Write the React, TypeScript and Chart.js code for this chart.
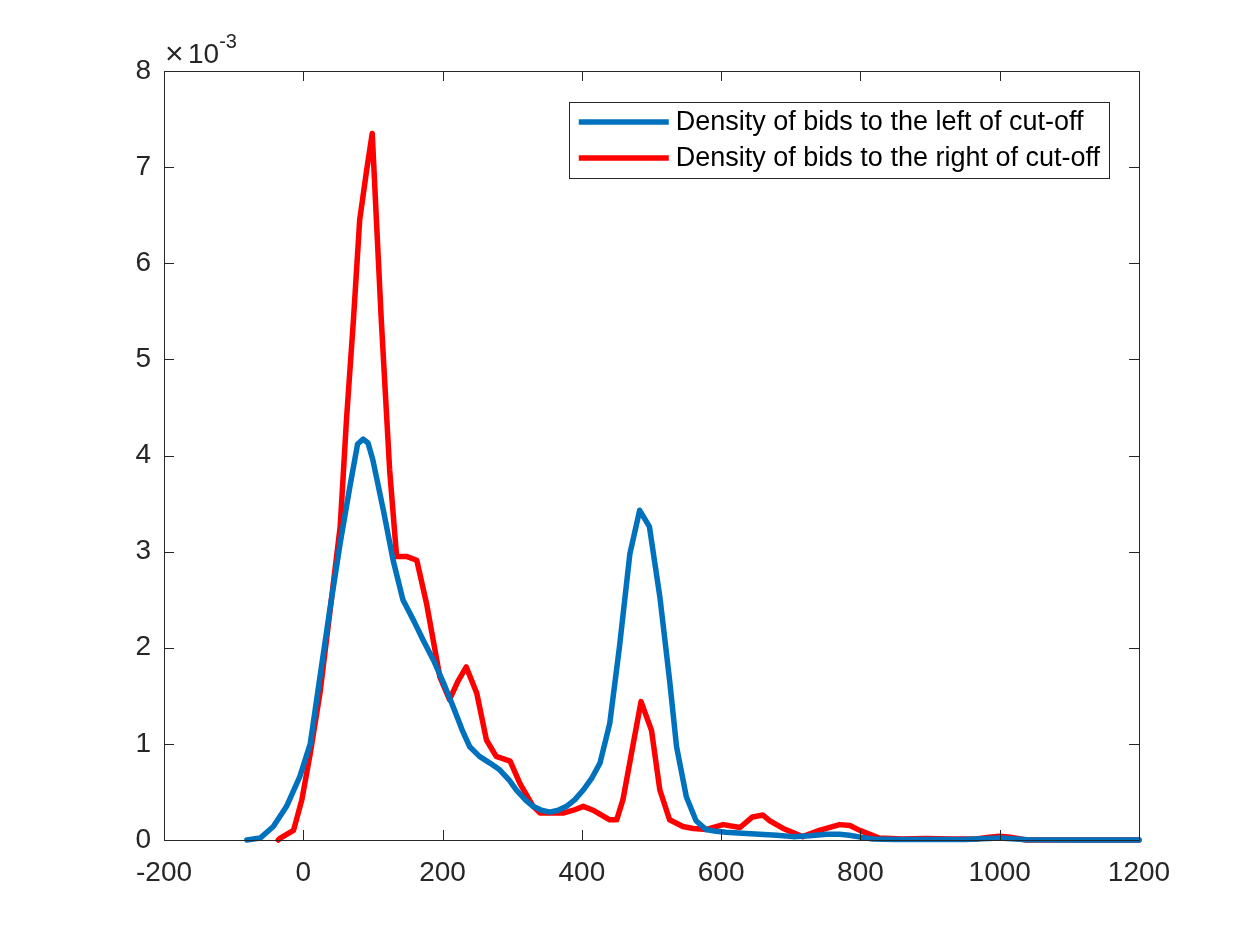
import Chart from 'chart.js/auto';
import React, { useEffect, useRef } from 'react';

// bid value (x) and kernel density (in units of 1e-3)
const leftX = [
  -81, -62, -43, -24, -5, 10, 24, 38, 53, 67, 78, 86, 93, 100, 115, 129, 143, 158, 172, 187, 201, 215, 229, 239,
  253, 268, 282, 296, 306, 320, 330, 342, 354, 366, 378, 390, 402, 414, 426, 440, 454, 469, 483, 497, 512, 526,
  536, 550, 564, 578, 593, 607, 630, 655, 680, 703, 727, 751, 770, 784, 800, 818, 850, 900, 950, 1000, 1040, 1100,
  1200,
];
const leftY = [
  0, 0.02, 0.14, 0.35, 0.66, 1.0, 1.7, 2.39, 3.09, 3.68, 4.12, 4.17, 4.13, 3.95, 3.43, 2.91, 2.5, 2.29, 2.08, 1.87,
  1.64, 1.39, 1.13, 0.97, 0.87, 0.8, 0.73, 0.62, 0.52, 0.41, 0.35, 0.31, 0.29, 0.31, 0.35, 0.42, 0.52, 0.64, 0.8,
  1.21, 2.01, 2.98, 3.43, 3.26, 2.53, 1.66, 0.97, 0.45, 0.2, 0.11, 0.09, 0.08, 0.07, 0.06, 0.05, 0.035, 0.045, 0.06,
  0.06, 0.05, 0.03, 0.01, 0.005, 0.005, 0.005, 0.02, 0.003, 0, 0,
];

const rightX = [
  -36, -33, -14, -2, 10, 24, 38, 53, 62, 72, 81, 91, 99, 105, 112, 120, 124, 134, 148, 163, 177, 196, 210, 222, 234,
  249, 263, 277, 297, 311, 330, 340, 373, 388, 402, 416, 440, 450, 459, 473, 485, 500, 512, 526, 545, 560, 579, 603,
  627, 645, 660, 670, 689, 717, 741, 770, 785, 799, 827, 860, 894, 930, 966, 985, 1000, 1015, 1038, 1200,
];
const rightY = [
  0, 0.02, 0.1, 0.42, 0.9, 1.53, 2.36, 3.26, 4.37, 5.41, 6.45, 6.97, 7.35, 6.45, 5.41, 4.37, 3.85, 2.95, 2.95, 2.91,
  2.46, 1.7, 1.46, 1.65, 1.8, 1.53, 1.04, 0.87, 0.82, 0.59, 0.35, 0.28, 0.28, 0.31, 0.35, 0.31, 0.21, 0.21, 0.42, 0.97,
  1.44, 1.14, 0.52, 0.21, 0.14, 0.12, 0.11, 0.16, 0.13, 0.24, 0.26, 0.2, 0.12, 0.035, 0.1, 0.16, 0.15, 0.1, 0.02, 0.01,
  0.015, 0.01, 0.01, 0.03, 0.04, 0.03, 0, 0,
];

const seriesLabels = ['Density of bids to the left of cut-off', 'Density of bids to the right of cut-off'];
const xTickValues = [-200, 0, 200, 400, 600, 800, 1000, 1200];
const yTickValues = [0, 1, 2, 3, 4, 5, 6, 7, 8];
const exponentLabel = '-3';

const FONT = '"Liberation Sans", Arial, Helvetica, sans-serif';
const AXIS_COLOR = '#262626';

const toPoints = (xs: number[], ys: number[]) => xs.map((x, i) => ({ x, y: ys[i] }));

// MATLAB 스타일 박스, 안쪽 눈금, 범례, 지수 표기
const matlabFrame = {
  id: 'matlabFrame',
  afterDraw(chart: any) {
    const { ctx, chartArea: a } = chart;
    const xs = chart.scales.x;
    const ys = chart.scales.y;
    const tick = 10;
    ctx.save();
    ctx.strokeStyle = AXIS_COLOR;
    ctx.lineWidth = 1;
    ctx.beginPath();
    ctx.rect(Math.round(a.left) + 0.5, Math.round(a.top) + 0.5, Math.round(a.right - a.left), Math.round(a.bottom - a.top));
    xTickValues.forEach((v) => {
      const px = Math.round(xs.getPixelForValue(v)) + 0.5;
      ctx.moveTo(px, a.bottom);
      ctx.lineTo(px, a.bottom - tick);
      ctx.moveTo(px, a.top);
      ctx.lineTo(px, a.top + tick);
    });
    yTickValues.forEach((v) => {
      const py = Math.round(ys.getPixelForValue(v)) + 0.5;
      ctx.moveTo(a.left, py);
      ctx.lineTo(a.left + tick, py);
      ctx.moveTo(a.right, py);
      ctx.lineTo(a.right - tick, py);
    });
    ctx.stroke();

    // x10^-3
    ctx.fillStyle = AXIS_COLOR;
    ctx.textAlign = 'left';
    ctx.textBaseline = 'alphabetic';
    ctx.font = `32px ${FONT}`;
    ctx.fillText('\u00d7', a.left + 1, a.top - 7);
    ctx.font = `28px ${FONT}`;
    ctx.fillText('10', a.left + 24, a.top - 8);
    const w10 = ctx.measureText('10').width;
    ctx.font = `20px ${FONT}`;
    ctx.fillText(exponentLabel, a.left + 24 + w10, a.top - 23);

    // 범례
    ctx.font = `27px ${FONT}`;
    const textW = Math.max(...chart.data.datasets.map((d: any) => ctx.measureText(d.label).width));
    const boxRight = a.right - 30;
    const boxLeft = boxRight - (107 + textW + 9);
    const boxTop = a.top + 31;
    const boxH = 76;
    ctx.fillStyle = '#ffffff';
    ctx.fillRect(boxLeft, boxTop, boxRight - boxLeft, boxH);
    ctx.strokeStyle = AXIS_COLOR;
    ctx.lineWidth = 1;
    ctx.strokeRect(Math.round(boxLeft) + 0.5, Math.round(boxTop) + 0.5, Math.round(boxRight - boxLeft), boxH);
    ctx.textBaseline = 'middle';
    chart.data.datasets.forEach((d: any, i: number) => {
      const y = boxTop + 20 + i * 36;
      ctx.strokeStyle = d.borderColor;
      ctx.lineWidth = 5.5;
      ctx.beginPath();
      ctx.moveTo(boxLeft + 10, y);
      ctx.lineTo(boxLeft + 100, y);
      ctx.stroke();
      ctx.fillStyle = '#000000';
      ctx.fillText(d.label, boxLeft + 107, y + 1);
    });
    ctx.restore();
  },
};

const App: React.FC = () => {
  const chartRef = useRef<HTMLCanvasElement>(null);
  const chartInstanceRef = useRef<Chart | null>(null);

  useEffect(() => {
    document.body.style.margin = '0';
    if (!chartRef.current) return;
    const ctx = chartRef.current.getContext('2d');
    if (!ctx) return;
    if (chartInstanceRef.current) chartInstanceRef.current.destroy();

    chartInstanceRef.current = new Chart(ctx, {
      type: 'line',
      data: {
        datasets: [
          {
            label: seriesLabels[0],
            data: toPoints(leftX, leftY),
            borderColor: '#0072BD',
            borderWidth: 5.5,
            pointRadius: 0,
            tension: 0,
            fill: false,
            clip: false,
            borderJoinStyle: 'round',
            borderCapStyle: 'round',
          },
          {
            label: seriesLabels[1],
            data: toPoints(rightX, rightY),
            borderColor: '#FF0000',
            borderWidth: 5.5,
            pointRadius: 0,
            tension: 0,
            fill: false,
            clip: false,
            borderJoinStyle: 'round',
            borderCapStyle: 'round',
          },
        ],
      },
      options: {
        responsive: false,
        animation: false,
        layout: { padding: { top: 71, right: 121, left: 0, bottom: 0 } },
        scales: {
          x: {
            type: 'linear',
            min: -200,
            max: 1200,
            afterBuildTicks: (s: any) => {
              s.ticks = xTickValues.map((value) => ({ value }));
            },
            afterFit: (s: any) => {
              s.height = 105;
            },
            grid: { display: false },
            border: { display: false },
            ticks: {
              autoSkip: false,
              maxRotation: 0,
              padding: 8,
              color: AXIS_COLOR,
              font: { family: FONT, size: 28 },
              callback: (v: any) => String(v),
            },
          },
          y: {
            type: 'linear',
            min: 0,
            max: 8,
            afterBuildTicks: (s: any) => {
              s.ticks = yTickValues.map((value) => ({ value }));
            },
            afterFit: (s: any) => {
              s.width = 164;
            },
            grid: { display: false },
            border: { display: false },
            ticks: {
              padding: 5,
              color: AXIS_COLOR,
              font: { family: FONT, size: 28 },
              callback: (v: any) => String(v),
            },
          },
        },
        plugins: {
          legend: { display: false },
          tooltip: { enabled: false },
        },
      },
      plugins: [matlabFrame],
    } as any);

    return () => {
      if (chartInstanceRef.current) {
        chartInstanceRef.current.destroy();
        chartInstanceRef.current = null;
      }
    };
  }, []);

  return (
    <div style={{ width: 1260, height: 945, background: '#ffffff' }}>
      <canvas ref={chartRef} width={1260} height={945}></canvas>
    </div>
  );
};

export default App;
